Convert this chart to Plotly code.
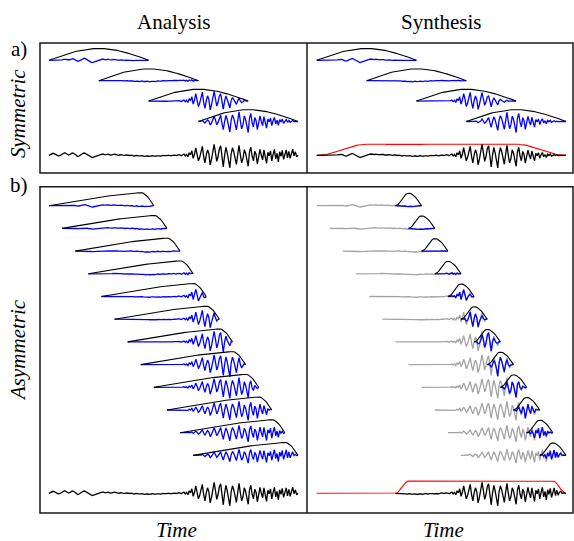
import numpy as np
import plotly.graph_objects as go

# ---------------- data ----------------
# test signal, one value per sample (191 samples), amplitude in px-like units
signal = [
    0.0, 0.6, 1.4, 2.0, 1.6, 0.9, 0.2, -0.6, -0.4, 0.5,
    1.3, 2.2, 2.5, 1.8, 1.0, 0.3, 0.9, 1.7, 2.4, 1.7,
    0.6, -0.5, -1.2, -0.7, 0.3, 1.1, 2.0, 2.3, 1.5, 0.5,
    -0.3, -1.0, -1.8, -2.3, -1.8, -1.2, -0.9, -0.3, 0.3, 0.7,
    1.0, 1.3, 0.9, 0.4, 0.8, 1.2, 0.7, 0.2, 0.5, 0.9,
    1.1, 0.8, 0.3, 0.0, 0.3, 0.6, 0.1, -0.3, -0.1, 0.3,
    0.0, -0.4, -0.2, 0.2, -0.3, -0.7, -0.4, -0.1, -0.6, -0.9,
    -0.6, -0.3, -0.8, -1.1, -0.8, -0.5, -1.0, -1.2, -0.7, -0.4,
    -0.7, -1.0, -0.5, -0.2, -0.5, -0.8, -0.3, 0.0, -0.3, -0.6,
    -0.3, 0.1, -0.2, -0.5, 0.0, 0.4, 0.1, -0.3, 0.3, 0.6,
    0.2, -0.4, 0.5, 1.2, -0.6,
    1.0, -1.5, 2.5, 0.5, 4.5, -3.0, 1.0, 7.5, 2.0, -5.5,
    -2.0, 3.5, 9.0, -1.0, -7.5, 0.5, 5.5, 1.5, -9.5, -4.0,
    2.5, 11.0, 3.0, -6.0, -1.5, 6.5, 9.5, -3.0, -11.5, 0.0,
    8.0, 2.5, -5.0, -12.5, 1.5, 7.5, 3.5, -2.0, -9.0, 1.0,
    10.0, 0.5, -7.5, -3.5, 5.5, 2.0, -6.0, -11.0, 3.5, 8.0,
    -1.0, -5.5, 4.0, 1.0, -8.5, -2.5, 6.0, 0.0, -4.5, 5.5,
    -1.5, -8.0, 3.0, -0.5, 4.5, -5.5, 1.0, 6.0, -3.5, 2.0,
    -6.5, 3.5, -1.0, 5.0, -4.0, 1.5, 5.5, -2.5, 4.0, -3.0,
    2.0, 6.0, -0.5, 3.5, -1.5, 0.0,
]

# symmetric window, first half (rising part incl. peak)
sym_half = [
    0.00, 0.04, 0.08, 0.12, 0.16, 0.21, 0.25, 0.28, 0.32, 0.36,
    0.40, 0.44, 0.48, 0.51, 0.55, 0.58, 0.61, 0.65, 0.68, 0.71,
    0.74, 0.76, 0.79, 0.81, 0.84, 0.86, 0.88, 0.90, 0.92, 0.93,
    0.95, 0.96, 0.97, 0.98, 0.99, 0.99, 1.00, 1.00, 1.00,
]

# asymmetric analysis window: long rise ...
asym_rise = [
    0.000, 0.018, 0.037, 0.055, 0.073, 0.092, 0.110, 0.128, 0.146, 0.165,
    0.183, 0.201, 0.219, 0.237, 0.255, 0.272, 0.290, 0.308, 0.325, 0.343,
    0.360, 0.377, 0.394, 0.411, 0.428, 0.445, 0.461, 0.478, 0.494, 0.510,
    0.526, 0.542, 0.558, 0.573, 0.588, 0.604, 0.619, 0.633, 0.648, 0.662,
    0.677, 0.691, 0.705, 0.718, 0.732, 0.745, 0.758, 0.771, 0.783, 0.796,
    0.808, 0.820, 0.831, 0.843, 0.854, 0.865, 0.876, 0.886, 0.896, 0.906,
    0.916, 0.926, 0.935, 0.944, 0.953, 0.961, 0.969, 0.977, 0.985, 0.993,
    1.000,
]
# ... and short fall (also the falling half of the synthesis window)
asym_fall = [0.988, 0.951, 0.891, 0.809, 0.707, 0.588, 0.454, 0.309, 0.156, 0.000]
# rising half of the short synthesis window
syn_rise = [0.000, 0.026, 0.102, 0.218, 0.363, 0.520, 0.675, 0.813, 0.918, 0.982, 1.000]

col_titles = ["Analysis", "Synthesis"]
row_labels = ["a)", "b)"]
row_titles = ["Symmetric", "Asymmetric"]
x_title = "Time"

# framing parameters (samples)
HOP_A, LEN_A, NFR_A = 38, 76, 4
HOP_B, LEN_B, NFR_B = 10, 80, 12
SYN_B = 20

# ---------------- derived ----------------
sig = np.array(signal)
N = len(sig)
w_sym = np.array(sym_half + sym_half[-2::-1])
w_a = np.array(asym_rise + asym_fall)
w_s = np.array(syn_rise + asym_fall)

W, H = 574, 541
def px(x):
    return x / W
def py(y):
    return 1 - y / H

BLUE, BLACK, GRAY, RED = "#0000ff", "#000000", "#a3a3a3", "#ff0000"
LW = 1.3

fig = go.Figure()

def line(x, y, color, ax, width=LW):
    fig.add_trace(go.Scatter(x=x, y=y, mode="lines",
                             line=dict(color=color, width=width),
                             xaxis="x" + ax, yaxis="y" + ax,
                             hoverinfo="skip", showlegend=False))

# ---- panel a (symmetric) ----
A_BASE0, A_STEP, A_SIG = 60.3, 20.4, 155.3
A_WIN_H, A_RED_H = 11.8, 11.0
ola_a = np.zeros(N)
for k in range(NFR_A):
    idx = np.arange(k * HOP_A, k * HOP_A + LEN_A + 1)
    base = -(A_BASE0 + A_STEP * k)
    line(idx, base + sig[idx] * w_sym, BLUE, "")
    line(idx, base + A_WIN_H * w_sym, BLACK, "", 1.1)
    line(idx, base + sig[idx] * w_sym ** 2, BLUE, "2")
    line(idx, base + A_WIN_H * w_sym, BLACK, "2", 1.1)
    ola_a[idx] += w_sym ** 2
t = np.arange(N)
line(t, -A_SIG + sig, BLACK, "")
line(t, -A_SIG + A_RED_H * ola_a, RED, "2", 1.1)
line(t, -A_SIG + sig * ola_a, BLACK, "2")

# ---- panel b (asymmetric) ----
B_BASE0, B_STEP, B_SIG = 205.7, 22.7, 493.3
B_WIN_H, B_SYN_H, B_RED_H = 13.0, 12.5, 12.3
ola_b = np.zeros(N)
first_syn = LEN_B - SYN_B
for k in range(NFR_B):
    idx = np.arange(k * HOP_B, k * HOP_B + LEN_B + 1)
    base = -(B_BASE0 + B_STEP * k)
    line(idx, base + sig[idx] * w_a, BLUE, "3")
    line(idx, base + B_WIN_H * w_a, BLACK, "3", 1.1)
    line(idx, base + sig[idx] * w_a, GRAY, "4")
    sidx = idx[first_syn:]
    prod = w_a[first_syn:] * w_s
    line(sidx, base + sig[sidx] * prod, BLUE, "4")
    line(sidx, base + B_SYN_H * w_s, BLACK, "4", 1.1)
    ola_b[sidx] += prod
line(t, -B_SIG + sig, BLACK, "3")
line(t, -B_SIG + B_RED_H * ola_b, RED, "4", 1.1)
cov = t[first_syn:]
line(cov, -B_SIG + sig[cov] * ola_b[cov], BLACK, "4")

# ---------------- axes ----------------
PX_PER_S_L = (298 - 49) / (N - 1)
PX_PER_S_R = (566 - 316.7) / (N - 1)
XL = [40, 307]
XR = [307, 573]
xr_left = [(XL[0] - 49) / PX_PER_S_L, (XL[1] - 49) / PX_PER_S_L]
xr_right = [(XR[0] - 316.7) / PX_PER_S_R, (XR[1] - 316.7) / PX_PER_S_R]
YA = [43, 173]
YB = [186.7, 513]

hidden = dict(visible=False, showgrid=False, zeroline=False, fixedrange=True)
fig.update_layout(
    width=W, height=H, margin=dict(l=0, r=0, t=0, b=0),
    paper_bgcolor="white", plot_bgcolor="white", showlegend=False,
    hovermode=False,
    xaxis=dict(domain=[px(XL[0]), px(XL[1])], range=xr_left, anchor="y", **hidden),
    yaxis=dict(domain=[py(YA[1]), py(YA[0])], range=[-YA[1], -YA[0]], anchor="x", **hidden),
    xaxis2=dict(domain=[px(XR[0]), px(XR[1])], range=xr_right, anchor="y2", **hidden),
    yaxis2=dict(domain=[py(YA[1]), py(YA[0])], range=[-YA[1], -YA[0]], anchor="x2", **hidden),
    xaxis3=dict(domain=[px(XL[0]), px(XL[1])], range=xr_left, anchor="y3", **hidden),
    yaxis3=dict(domain=[py(YB[1]), py(YB[0])], range=[-YB[1], -YB[0]], anchor="x3", **hidden),
    xaxis4=dict(domain=[px(XR[0]), px(XR[1])], range=xr_right, anchor="y4", **hidden),
    yaxis4=dict(domain=[py(YB[1]), py(YB[0])], range=[-YB[1], -YB[0]], anchor="x4", **hidden),
)

# borders
shapes = []
for (y0, y1) in (YA, YB):
    shapes.append(dict(type="rect", xref="paper", yref="paper",
                       x0=px(XL[0]), x1=px(XR[1]), y0=py(y1), y1=py(y0),
                       line=dict(color="#1a1a1a", width=1.5)))
    shapes.append(dict(type="line", xref="paper", yref="paper",
                       x0=px(XL[1]), x1=px(XL[1]), y0=py(y1), y1=py(y0),
                       line=dict(color="#1a1a1a", width=1.5)))
fig.update_layout(shapes=shapes)

FONT = "Liberation Serif, Times New Roman, serif"
ann = []
def text(s, x, y, angle=0):
    ann.append(dict(text=s, x=px(x), y=py(y), xref="paper", yref="paper",
                    showarrow=False, xanchor="center", yanchor="middle",
                    textangle=angle, font=dict(family=FONT, size=21, color="black")))

text(col_titles[0], 174, 22)
text(col_titles[1], 441, 22)
text(row_labels[0], 19, 49)
text(row_labels[1], 19, 185)
text("<i>%s</i>" % row_titles[0], 18, 114, -90)
text("<i>%s</i>" % row_titles[1], 18, 350, -90)
text("<i>%s</i>" % x_title, 176, 530)
text("<i>%s</i>" % x_title, 443, 530)
fig.update_layout(annotations=ann)

fig.write_html(
    "out.html",
    config={"displayModeBar": False},
    post_script="document.body.style.margin='0';document.body.style.overflow='hidden';",
)
